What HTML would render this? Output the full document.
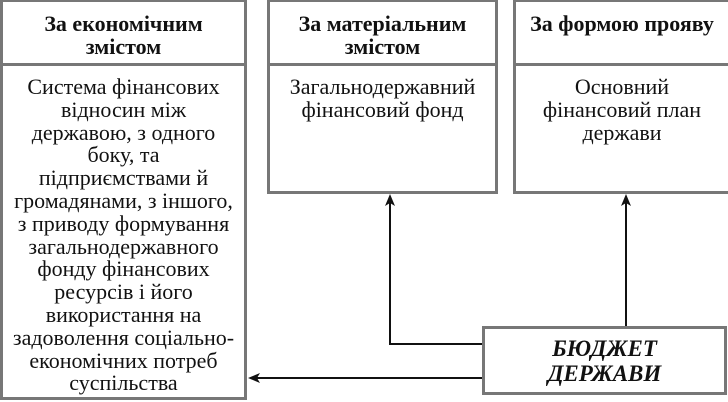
<!DOCTYPE html>
<html><head><meta charset="utf-8"><style>
body{margin:0;width:728px;height:402px;background:#fff;position:relative;overflow:hidden;font-family:"Liberation Serif","DejaVu Serif",serif;color:#111}
.b{position:absolute;border:3px solid #777;box-sizing:border-box;background:#fff;text-align:center}
.h{font-weight:bold;font-size:22px;line-height:23px}
.t{font-size:22px;line-height:22.8px}
</style></head><body>
<div class="b h" style="left:0;top:-1px;width:247px;height:67px;padding-top:10px">За економічним<br>змістом</div>
<div class="b t" style="left:0;top:63px;width:247px;height:337px;padding-top:10px">Система фінансових<br>відносин між<br>державою, з одного<br>боку, та<br>підприємствами й<br>громадянами, з іншого,<br>з приводу формування<br>загальнодержавного<br>фонду фінансових<br>ресурсів і його<br>використання на<br>задоволення соціально-<br>економічних потреб<br>суспільства</div>
<div class="b h" style="left:267px;top:-1px;width:231px;height:67px;padding-top:10px">За матеріальним<br>змістом</div>
<div class="b t" style="left:267px;top:63px;width:231px;height:131px;padding-top:10px">Загальнодержавний<br>фінансовий фонд</div>
<div class="b h" style="left:513px;top:-1px;width:218px;height:67px;padding-top:10px">За формою прояву</div>
<div class="b t" style="left:513px;top:63px;width:218px;height:131px;padding-top:10px">Основний<br>фінансовий план<br>держави</div>
<svg style="position:absolute;left:0;top:0" width="728" height="402">
<g stroke="#111" stroke-width="2" fill="none">
<path d="M483 344H390V200"/>
<path d="M626 327V200"/>
<path d="M483 378H252"/>
</g>
<g fill="#111">
<path d="M390 194l-5 12 5-3 5 3z"/>
<path d="M626 194l-5 12 5-3 5 3z"/>
<path d="M248 378l12-5-3 5 3 5z"/>
</g>
</svg>
<div class="b" style="left:482px;top:326px;width:245px;height:69px;font-weight:bold;font-style:italic;font-size:23px;line-height:25px;padding-top:7px">БЮДЖЕТ<br>ДЕРЖАВИ</div>
</body></html>
